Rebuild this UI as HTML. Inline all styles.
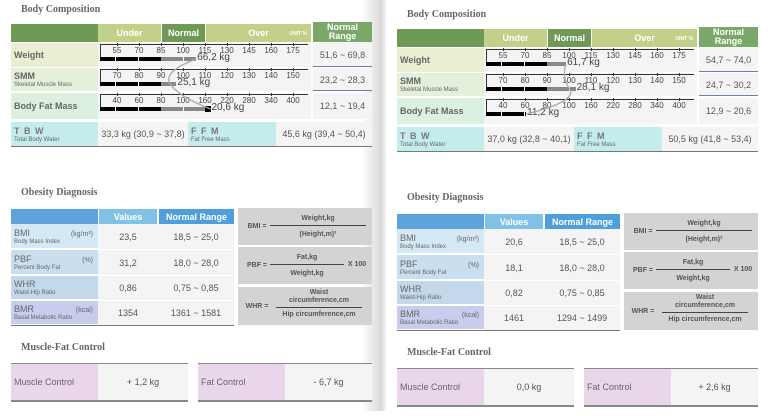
<!DOCTYPE html>
<html><head><meta charset="utf-8">
<style>
body{margin:0;width:768px;height:411px;overflow:hidden;background:#fff;font-family:"Liberation Sans",sans-serif;position:relative}
.a{position:absolute;box-sizing:border-box}
.t{font-family:"Liberation Serif",serif;font-weight:bold;font-size:10px;color:#666}
.c{display:flex;align-items:center;justify-content:center;color:#555;font-size:9px}
.h{color:#fff;font-weight:bold;font-size:9px}
.lb{color:#666;font-size:9px;padding-left:3px;display:flex;flex-direction:column;justify-content:center}
.lb small{font-size:6px;color:#666;margin-top:1px}
</style></head><body>
<div class="a" style="left:362px;top:0;width:24px;height:411px;background:linear-gradient(to right,#fff,#d8d8d8 80%,#f4f4f4)"></div>
<div id="root"></div>
<script>
const tickWeight=[55,70,85,100,115,130,145,160,175];
const tickSMM=[70,80,90,100,110,120,130,140,150];
const tickBFM=[40,60,80,100,160,220,280,340,400];
const rowNames=["Weight","SMM","Body Fat Mass"];
const leftBarPct=[109,97,175];
const rightBarPct=[98,103,61];
const leftBarLabels=["66,2 kg","25,1 kg","20,6 kg"];
const rightBarLabels=["61,7 kg","28,1 kg","11,2 kg"];
const leftRanges=["51,6 ~ 69,8","23,2 ~ 28,3","12,1 ~ 19,4"];
const rightRanges=["54,7 ~ 74,0","24,7 ~ 30,2","12,9 ~ 20,6"];
const leftTBW=["33,3 kg (30,9 ~ 37,8)","45,6 kg (39,4 ~ 50,4)"];
const rightTBW=["37,0 kg (32,8 ~ 40,1)","50,5 kg (41,8 ~ 53,4)"];
const leftObValues=["23,5","31,2","0,86","1354"];
const rightObValues=["20,6","18,1","0,82","1461"];
const leftObRanges=["18,5 ~ 25,0","18,0 ~ 28,0","0,75 ~ 0,85","1361 ~ 1581"];
const rightObRanges=["18,5 ~ 25,0","18,0 ~ 28,0","0,75 ~ 0,85","1294 ~ 1499"];
const leftControl=["+ 1,2 kg","- 6,7 kg"];
const rightControl=["0,0 kg","+ 2,6 kg"];
const ticks=[tickWeight,tickSMM,tickBFM];

const root=document.getElementById('root');
function box(parent,x,y,w,h,bg,cls,html){
  const d=document.createElement('div');
  d.className='a '+(cls||'');
  d.style.cssText=`left:${x}px;top:${y}px;width:${w}px;height:${h}px;`+(bg?`background:${bg};`:'');
  if(html!==undefined)d.innerHTML=html;
  parent.appendChild(d);return d;
}
function tickX(i){return 117+i*22;}
function valX(v,tk){
  let i=0;
  while(i<tk.length-2&&v>tk[i+1])i++;
  return tickX(i)+(v-tk[i])/(tk[i+1]-tk[i])*22;
}
function renderPage(ox,oy,pct,barLbl,ranges,tbw,obV,obR,ctrl,side){
  const p=document.createElement('div');
  p.className='a';p.style.cssText=`left:${ox}px;top:${oy}px;width:372px;height:411px`;
  
  
  root.appendChild(p);
  let e;
  e=box(p,21,4,200,13,null,'t','Body Composition');
  
  e=box(p,11,24,87,18,'#6f9a55');
  
  e=box(p,98,24,63,18,'#c3d08a','c h','Under');
  
  e=box(p,162,24,43,18,'#6f9a55','c h','Normal');
  
  e=box(p,206,24,105,18,'#c3d08a','c h','Over<span style="position:absolute;right:4px;top:7px;font-size:5px">UNIT %</span>');
  
  e=box(p,313,22,59,20,'#7aa868','c h','<div style="text-align:center;line-height:9px">Normal<br>Range</div>');
  
  const rowY=[43,68,93],rowH=[24,23,26],rowBg=['#e9efd0','#e4efdc','#dcf0df'];
  const sub=['','<small>Skeletal Muscle Mass</small>',''];
  const ends=[];
  for(let r=0;r<3;r++){
    const y=rowY[r];
    e=box(p,11,y,87,rowH[r],rowBg[r],'lb','<span style="font-weight:bold;color:#666">'+rowNames[r]+'</span>'+sub[r]);
    
    const sc=box(p,98,y,213,rowH[r],'#f4f4f4');
    
    box(p,100,y+1,208,1,'#333');
    box(p,100,y+1,1,17,'#333');
    ticks[r].forEach((t,i)=>{
      const tx=tickX(i);
      box(p,tx,y,1,3,'#333');
      const l=box(p,tx-12,y+3,24,9,null,'c',String(t));
      l.style.fontSize='8px';l.style.color='#444';
      
    });
    const tk=ticks[r];
    const xe=valX(pct[r],tk);
    const t1=tickX(2),t2=tickX(4);
    const by=y+14;
    const b1=box(p,100,by,Math.min(xe,t1)-100,4,'#000');
    
    [115,138].forEach(sx=>{if(sx<Math.min(xe,t1))box(p,sx,by,1,4,'#fff');});
    if(xe>t1){
      const b2=box(p,t1,by,Math.min(xe,t2)-t1,4,'#888');
      
      box(p,t1+22,by,1,4,'#fff');
    }
    if(xe>t2){
      const b3=box(p,t2,by-1,xe-t2,6,'#000');
      
    }
    ends.push([xe,by+2]);
    e=box(p,xe+1,y+9,60,12,null,'',barLbl[r]);
    e.style.fontSize='10px';e.style.color='#444';
    
    e=box(p,313,y,59,rowH[r],'#f4f4f4','c',ranges[r]);
    e.style.fontSize='9px';
    
    if(r<2)box(p,313,y+rowH[r]-1,59,1,'#6a7fb0');
  }
  const svg=document.createElementNS('http://www.w3.org/2000/svg','svg');
  svg.setAttribute('class','a');svg.setAttribute('width','372');svg.setAttribute('height','130');
  svg.style.cssText='left:0;top:0;';
  
  
  const pa=document.createElementNS('http://www.w3.org/2000/svg','path');
  const [a,b,c]=ends;
  pa.setAttribute('d',`M${a[0]},${a[1]} Q${b[0]-14},${(a[1]+b[1])/2} ${b[0]-6},${b[1]} T${c[0]},${c[1]}`);
  pa.setAttribute('stroke','#aaa');pa.setAttribute('fill','none');pa.setAttribute('stroke-width','1.3');
  svg.appendChild(pa);p.appendChild(svg);
  e=box(p,11,122,87,24,'#c4ecec','lb','<span style="font-weight:bold;color:#777;letter-spacing:1px">T B W</span><small>Total Body Water</small>');
  
  e=box(p,98,122,90,24,'#f4f4f4','c',tbw[0]);
  
  e=box(p,188,122,88,24,'#c4ecec','lb','<span style="font-weight:bold;color:#777;letter-spacing:1px">F F M</span><small>Fat Free Mass</small>');
  
  e=box(p,276,122,96,24,'#f4f4f4','c',ffmFix(tbw[1]));
  
  box(p,11,146,361,1,'#777');

  e=box(p,21,187,200,13,null,'t','Obesity Diagnosis');
  
  box(p,11,209,87,15,'#5fa3dc');
  e=box(p,99,209,58,15,'#80c1e6','c h','Values');
  
  e=box(p,159,209,75,15,'#4f9fdc','c h','Normal Range');
  
  const oy2=[224,250,276,301],oh=[25,25,24,24],obg=['#d5e8f5','#c9dfef','#c4d8eb','#c8cdee'];
  const on=['BMI','PBF','WHR','BMR'],os=['Body Mass Index','Percent Body Fat','Waist-Hip Ratio','Basal Metabolic Ratio'],ou=['(kg/m²)','(%)','','(kcal)'];
  for(let r=0;r<4;r++){
    e=box(p,11,oy2[r],87,oh[r]-1,obg[r],'lb',on[r]+'<small>'+os[r]+'</small><span style="position:absolute;right:5px;top:'+(r==3?6:7)+'px;font-size:7px">'+ou[r]+'</span>');
    
    e=box(p,98,oy2[r],60,oh[r],'#f4f4f4','c',obV[r]);
    
    e=box(p,158,oy2[r],76,oh[r],'#f4f4f4','c',obR[r]);
    
  }
  box(p,11,325,223,1,'#777');
  const fy=[[208,37],[247,37],[287,38]];
  const fml=[
   ['BMI =','Weight,kg','(Height,m)²',''],
   ['PBF =','Fat,kg','Weight,kg','X 100'],
   ['WHR =','Waist<br>circumference,cm','Hip circumference,cm','']];
  for(let i=0;i<3;i++){
    const f=box(p,238,fy[i][0],134,fy[i][1],'#d3d3d3');
    
    box(f,4,0,30,fy[i][1],null,'c','<span style="font-size:7px;font-weight:bold;color:#555">'+fml[i][0]+'</span>');
    const w=i==1?64:86;
    box(f,i==2?38:32,i==2?2:5,w+ (i==2?0:10),i==2?16:11,null,'c','<span style="font-size:7px;font-weight:bold;color:#555;text-align:center;line-height:8px">'+fml[i][1]+'</span>');
    box(f,i==2?38:32,i==2?20:17,w+(i==2?0:10),1,'#444');
    box(f,i==2?38:32,i==2?22:21,w+(i==2?0:10),11,null,'c','<span style="font-size:7px;font-weight:bold;color:#555">'+fml[i][2]+'</span>');
    if(fml[i][3])box(f,104,12,30,11,null,'c','<span style="font-size:7px;font-weight:bold;color:#555">'+fml[i][3]+'</span>');
  }
  e=box(p,21,342,200,13,null,'t','Muscle-Fat Control');
  
  const cx=[[11,87,90],[198,87,87]],cn=['Muscle Control','Fat Control'];
  for(let i=0;i<2;i++){
    const [x,lw,vw]=cx[i];
    box(p,x,363,lw+vw,1,'#888');
    e=box(p,x,364,lw,36,'#ead6ea','lb','<span style="font-size:9px;color:#666">'+cn[i]+'</span>');
    
    e=box(p,x+lw,364,vw,36,'#f4f4f4','c',ctrl[i]);
    
    box(p,x,400,lw+vw,2,'#888');
  }
}
function ffmFix(s){return s;}
renderPage(0,0,leftBarPct,leftBarLabels,leftRanges,leftTBW,leftObValues,leftObRanges,leftControl,'left');
renderPage(386,5,rightBarPct,rightBarLabels,rightRanges,rightTBW,rightObValues,rightObRanges,rightControl,'right');
</script>
</body></html>
